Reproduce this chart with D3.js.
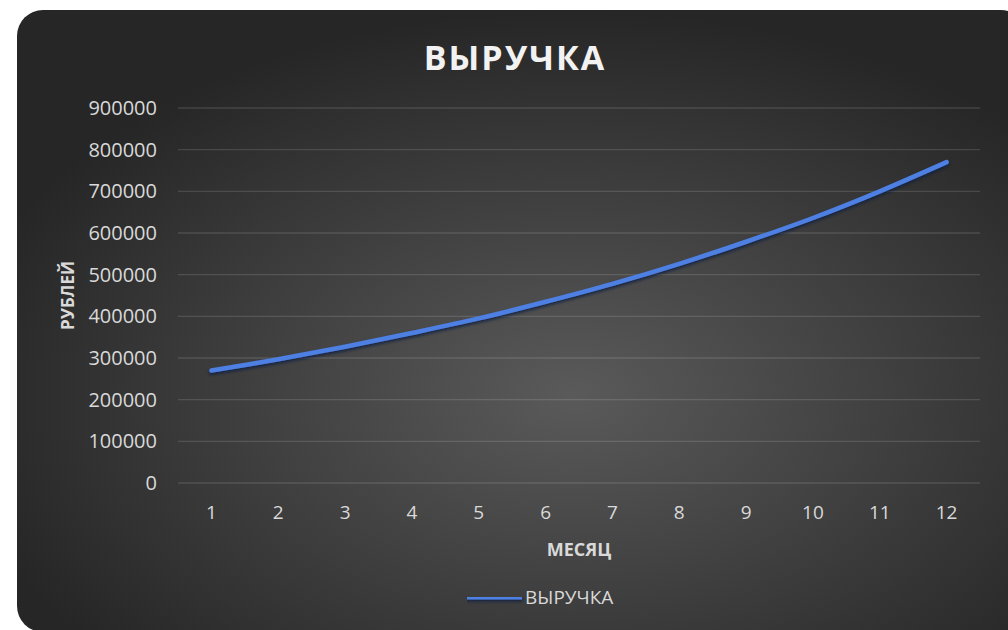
<!DOCTYPE html>
<html>
<head>
<meta charset="utf-8">
<script src="https://cdn.jsdelivr.net/npm/d3@7"></script>
<style>
  body { margin: 0; background: #fff; }
  text { font-family: "Open Sans", "Liberation Sans", sans-serif; }
</style>
</head>
<body>
<div id="chart"></div>
<script>
// data
var months = [1, 2, 3, 4, 5, 6, 7, 8, 9, 10, 11, 12];
var revenue = [270000, 297000, 327000, 360000, 395000, 435000, 478000, 526000, 579000, 636000, 700000, 770000];
var yTicks = [0, 100000, 200000, 300000, 400000, 500000, 600000, 700000, 800000, 900000];
var seriesName = "ВЫРУЧКА";

var W = 1008, H = 630;
var margin = {top: 108, right: 28, bottom: 147, left: 178};
var w = W - margin.left - margin.right,
    h = H - margin.top - margin.bottom;

var svg = d3.select("#chart").append("svg")
  .attr("width", W)
  .attr("height", H);

var defs = svg.append("defs");
var grad = defs.append("radialGradient")
  .attr("id", "bg")
  .attr("cx", "55%").attr("cy", "62%").attr("r", "62%");
grad.append("stop").attr("offset", "0%").attr("stop-color", "#5a5a5a");
grad.append("stop").attr("offset", "100%").attr("stop-color", "#262626");

// shadow under the line, in user space so a flat legend line is not clipped
var shadow = defs.append("filter").attr("id", "shadow")
  .attr("filterUnits", "userSpaceOnUse")
  .attr("x", 0).attr("y", 0).attr("width", W).attr("height", H);
shadow.append("feDropShadow")
  .attr("dx", 0).attr("dy", 2).attr("stdDeviation", 1.5)
  .attr("flood-color", "#0c1a40").attr("flood-opacity", 0.9);

// chart area
svg.append("rect")
  .attr("x", 17).attr("y", 10)
  .attr("width", 1010).attr("height", 622)
  .attr("rx", 26).attr("ry", 26)
  .attr("fill", "url(#bg)");

// title
svg.append("text")
  .attr("x", 515).attr("y", 70)
  .attr("text-anchor", "middle")
  .style("font-size", "34px").style("font-weight", "bold")
  .style("letter-spacing", "2px")
  .attr("fill", "#f2f2f2")
  .text(seriesName);

var g = svg.append("g")
  .attr("transform", "translate(" + margin.left + "," + margin.top + ")");

var x = d3.scaleBand().domain(months).range([0, w]);
var y = d3.scaleLinear().domain([0, 900000]).range([h, 0]);

// gridlines
g.append("g").selectAll("line")
  .data(yTicks)
  .enter().append("line")
  .attr("x1", 0).attr("x2", w)
  .attr("y1", function(d) { return y(d); })
  .attr("y2", function(d) { return y(d); })
  .attr("stroke", "#ffffff").attr("stroke-opacity", 0.13)
  .attr("stroke-width", 1.3);

// axes
var yAxis = g.append("g")
  .call(d3.axisLeft(y).tickValues(yTicks).tickSize(0).tickPadding(21).tickFormat(d3.format("d")));
yAxis.select(".domain").remove();
yAxis.selectAll("text")
  .style("font-size", "20px").attr("fill", "#d9d9d9");

var xAxis = g.append("g")
  .attr("transform", "translate(0," + h + ")")
  .call(d3.axisBottom(x).tickSize(0).tickPadding(23));
xAxis.select(".domain").remove();
xAxis.selectAll("text")
  .style("font-size", "19px").attr("fill", "#d9d9d9");

// axis titles
svg.append("text")
  .attr("x", margin.left + w / 2).attr("y", 556)
  .attr("text-anchor", "middle")
  .style("font-size", "18px").style("font-weight", "bold")
  .attr("fill", "#d9d9d9")
  .text("МЕСЯЦ");

svg.append("text")
  .attr("transform", "translate(74," + (margin.top + h / 2) + ") rotate(-90)")
  .attr("text-anchor", "middle")
  .style("font-size", "17px").style("font-weight", "bold")
  .attr("fill", "#d9d9d9")
  .text("РУБЛЕЙ");

// line
var line = d3.line()
  .curve(d3.curveCatmullRom)
  .x(function(d, i) { return x(months[i]) + x.bandwidth() / 2; })
  .y(function(d) { return y(d); });

g.append("path")
  .datum(revenue)
  .attr("d", line)
  .attr("fill", "none")
  .attr("stroke", "#4d80e2")
  .attr("stroke-width", 4.5)
  .attr("stroke-linecap", "round")
  .attr("filter", "url(#shadow)");

// legend
var leg = svg.append("g").attr("transform", "translate(467,597)");
leg.append("line")
  .attr("x1", 0).attr("x2", 55)
  .attr("stroke", "#4d80e2").attr("stroke-width", 5)
  .attr("filter", "url(#shadow)");
leg.append("text")
  .attr("x", 58).attr("y", 7)
  .style("font-size", "19px")
  .attr("fill", "#d9d9d9")
  .text(seriesName);
</script>
</body>
</html>
